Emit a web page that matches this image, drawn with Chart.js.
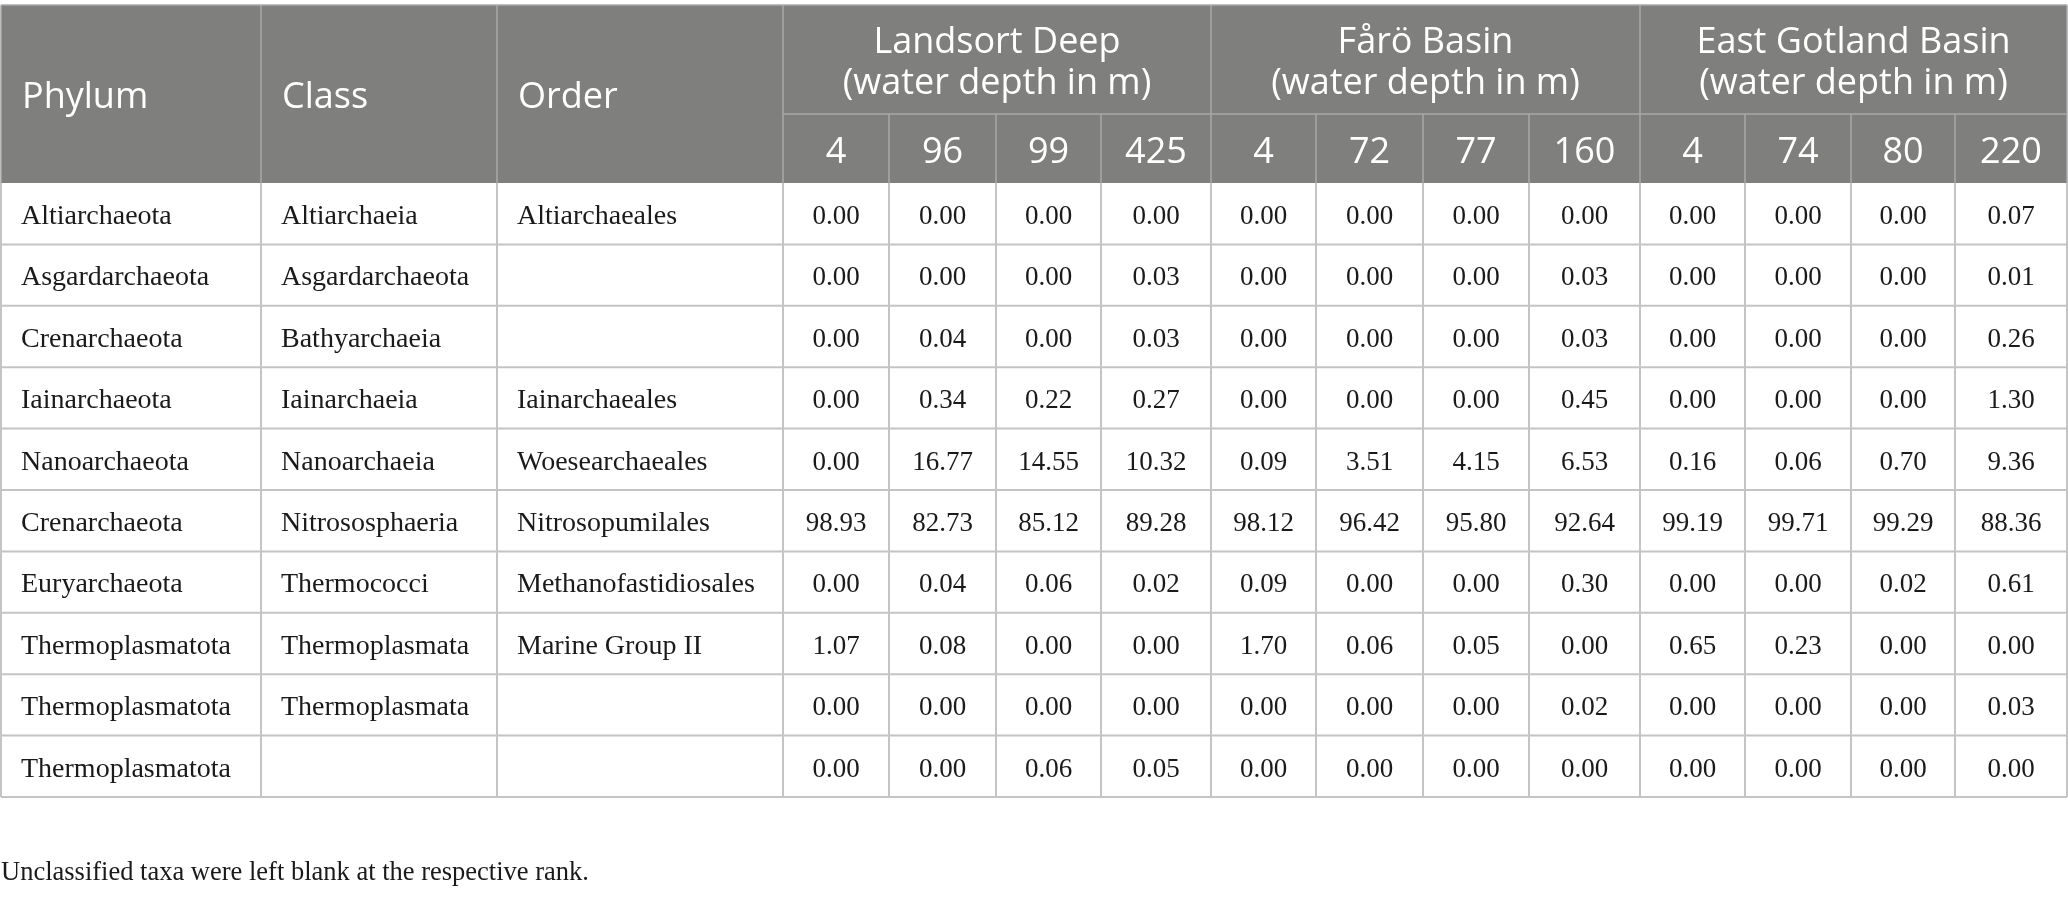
<!DOCTYPE html>
<html><head><meta charset="utf-8">
<script src="https://cdn.jsdelivr.net/npm/chart.js@4"></script>
<style>html,body{margin:0;padding:0;background:#fff;overflow:hidden}#wrap{width:2068px;height:899px;position:relative}</style>
</head><body><div id="wrap"><canvas id="c"></canvas></div>
<script>
// ---------- data ----------
const headers = ['Phylum', 'Class', 'Order'];
const phylum = ['Altiarchaeota','Asgardarchaeota','Crenarchaeota','Iainarchaeota','Nanoarchaeota','Crenarchaeota','Euryarchaeota','Thermoplasmatota','Thermoplasmatota','Thermoplasmatota'];
const classes = ['Altiarchaeia','Asgardarchaeota','Bathyarchaeia','Iainarchaeia','Nanoarchaeia','Nitrososphaeria','Thermococci','Thermoplasmata','Thermoplasmata',''];
const orders = ['Altiarchaeales','','','Iainarchaeales','Woesearchaeales','Nitrosopumilales','Methanofastidiosales','Marine Group II','',''];
const basins = ['Landsort Deep', 'Fårö Basin', 'East Gotland Basin'];
const depthNote = '(water depth in m)';
const depths = [[4, 96, 99, 425], [4, 72, 77, 160], [4, 74, 80, 220]];
const landsortDeep = [
  [0.00, 0.00, 0.00, 0.00],
  [0.00, 0.00, 0.00, 0.03],
  [0.00, 0.04, 0.00, 0.03],
  [0.00, 0.34, 0.22, 0.27],
  [0.00, 16.77, 14.55, 10.32],
  [98.93, 82.73, 85.12, 89.28],
  [0.00, 0.04, 0.06, 0.02],
  [1.07, 0.08, 0.00, 0.00],
  [0.00, 0.00, 0.00, 0.00],
  [0.00, 0.00, 0.06, 0.05]
];
const faroBasin = [
  [0.00, 0.00, 0.00, 0.00],
  [0.00, 0.00, 0.00, 0.03],
  [0.00, 0.00, 0.00, 0.03],
  [0.00, 0.00, 0.00, 0.45],
  [0.09, 3.51, 4.15, 6.53],
  [98.12, 96.42, 95.80, 92.64],
  [0.09, 0.00, 0.00, 0.30],
  [1.70, 0.06, 0.05, 0.00],
  [0.00, 0.00, 0.00, 0.02],
  [0.00, 0.00, 0.00, 0.00]
];
const eastGotlandBasin = [
  [0.00, 0.00, 0.00, 0.07],
  [0.00, 0.00, 0.00, 0.01],
  [0.00, 0.00, 0.00, 0.26],
  [0.00, 0.00, 0.00, 1.30],
  [0.16, 0.06, 0.70, 9.36],
  [99.19, 99.71, 99.29, 88.36],
  [0.00, 0.00, 0.02, 0.61],
  [0.65, 0.23, 0.00, 0.00],
  [0.00, 0.00, 0.00, 0.03],
  [0.00, 0.00, 0.00, 0.00]
];
const footnote = 'Unclassified taxa were left blank at the respective rank.';

// ---------- layout (table units on the chart's scales) ----------
const colEdges = [1, 261, 497, 783, 889, 996, 1101, 1211, 1316, 1423, 1529, 1640, 1745, 1851, 1955, 2067];
const yTop = 5, yGroup = 114, yHead = 183, rowH = 61.4;
const nRows = phylum.length;
const yBottom = yHead + rowH * nRows;
const HEAD_FONT = '36px "Open Sans", sans-serif';
const NAME_FONT = '28px "Liberation Serif", serif';
const NUM_FONT = '27px "Liberation Serif", serif';
const FOOT_FONT = '26.5px "Liberation Serif", serif';

const basinData = [landsortDeep, faroBasin, eastGotlandBasin];
const valuePoints = [];
for (let r = 0; r < nRows; r++) {
  for (let b = 0; b < basinData.length; b++) {
    for (let d = 0; d < 4; d++) {
      const c = 3 + b * 4 + d;
      valuePoints.push({ x: (colEdges[c] + colEdges[c + 1]) / 2, y: yHead + rowH * r + 41, v: basinData[b][r][d] });
    }
  }
}
const namePoints = [];
const nameCols = [phylum, classes, orders];
for (let r = 0; r < nRows; r++) {
  for (let k = 0; k < 3; k++) {
    namePoints.push({ x: colEdges[k] + 20, y: yHead + rowH * r + 41, t: nameCols[k][r] });
  }
}

const tablePlugin = {
  id: 'table',
  beforeDatasetsDraw(chart) {
    const ctx = chart.ctx, xs = chart.scales.x, ys = chart.scales.y;
    const X = v => xs.getPixelForValue(v), Y = v => ys.getPixelForValue(v);
    const L = X(colEdges[0]), R = X(colEdges[colEdges.length - 1]);
    ctx.save();
    // header background
    ctx.fillStyle = '#7f807e';
    ctx.fillRect(L, Y(yTop), R - L, Y(yHead) - Y(yTop));
    // header lines
    ctx.strokeStyle = '#a8a8a8';
    ctx.lineWidth = 1.5;
    const line = (x1, y1, x2, y2) => { ctx.beginPath(); ctx.moveTo(x1, y1); ctx.lineTo(x2, y2); ctx.stroke(); };
    line(L, Y(yTop), R, Y(yTop));
    colEdges.forEach((e, i) => {
      const groupEdge = i <= 3 || (i - 3) % 4 === 0;
      line(X(e), Y(groupEdge ? yTop : yGroup), X(e), Y(yHead));
    });
    line(X(colEdges[3]), Y(yGroup), R, Y(yGroup));
    // body grid
    ctx.strokeStyle = '#c4c4c4';
    ctx.lineWidth = 2;
    for (let r = 1; r <= nRows; r++) line(L, Y(yHead + rowH * r), R, Y(yHead + rowH * r));
    colEdges.forEach(e => line(X(e), Y(yHead), X(e), Y(yBottom)));
    // header text
    ctx.fillStyle = '#ffffff';
    ctx.font = HEAD_FONT;
    ctx.textBaseline = 'alphabetic';
    ctx.textAlign = 'left';
    headers.forEach((h, i) => ctx.fillText(h, X(colEdges[i] + 21), Y(108)));
    ctx.textAlign = 'center';
    basins.forEach((b, i) => {
      const cx = X((colEdges[3 + i * 4] + colEdges[7 + i * 4]) / 2);
      ctx.fillText(b, cx, Y(53));
      ctx.fillText(depthNote, cx, Y(94));
      depths[i].forEach((d, j) => {
        const c = 3 + i * 4 + j;
        ctx.fillText(String(d), X((colEdges[c] + colEdges[c + 1]) / 2), Y(163));
      });
    });
    // footnote
    ctx.fillStyle = '#1a1a1a';
    ctx.font = FOOT_FONT;
    ctx.textAlign = 'left';
    ctx.fillText(footnote, X(1), Y(880));
    ctx.restore();
  },
  afterDatasetsDraw(chart) {
    const ctx = chart.ctx;
    ctx.save();
    ctx.fillStyle = '#1a1a1a';
    ctx.textBaseline = 'alphabetic';
    const m0 = chart.getDatasetMeta(0);
    ctx.font = NUM_FONT;
    ctx.textAlign = 'center';
    m0.data.forEach((el, i) => ctx.fillText(valuePoints[i].v.toFixed(2), el.x, el.y));
    const m1 = chart.getDatasetMeta(1);
    ctx.font = NAME_FONT;
    ctx.textAlign = 'left';
    m1.data.forEach((el, i) => { if (namePoints[i].t) ctx.fillText(namePoints[i].t, el.x, el.y); });
    ctx.restore();
  }
};

new Chart(document.getElementById('c'), {
  type: 'scatter',
  data: {
    datasets: [
      { data: valuePoints, pointRadius: 0, pointHoverRadius: 0, clip: false },
      { data: namePoints, pointRadius: 0, pointHoverRadius: 0, clip: false }
    ]
  },
  options: {
    responsive: true,
    maintainAspectRatio: false,
    devicePixelRatio: 1,
    animation: false,
    events: [],
    layout: { padding: 0 },
    plugins: { legend: { display: false }, tooltip: { enabled: false } },
    scales: {
      x: { type: 'linear', min: 0, max: 2068, display: false },
      y: { type: 'linear', min: 0, max: 899, reverse: true, display: false }
    }
  },
  plugins: [tablePlugin]
});
</script>
</body></html>
